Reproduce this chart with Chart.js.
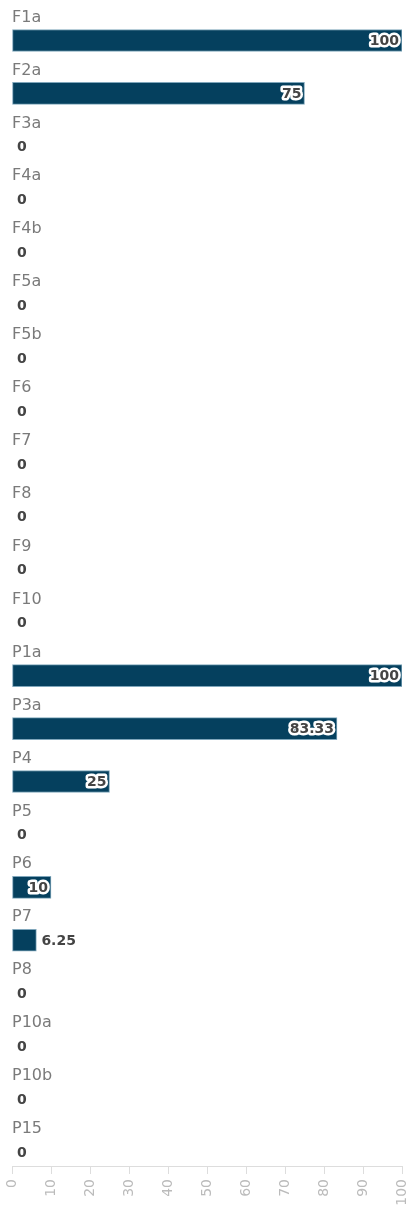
<!DOCTYPE html>
<html>
<head>
<meta charset="utf-8">
<script src="https://cdn.jsdelivr.net/npm/chart.js@4/dist/chart.umd.min.js"></script>
<style>
  html, body { margin: 0; padding: 0; background: #ffffff; }
  #wrap { position: relative; width: 412px; height: 1211px; }
</style>
</head>
<body>
<div id="wrap"><canvas id="c"></canvas></div>
<script>
const categories = ["F1a","F2a","F3a","F4a","F4b","F5a","F5b","F6","F7","F8","F9","F10",
                    "P1a","P3a","P4","P5","P6","P7","P8","P10a","P10b","P15"];
const values = [100, 75, 0, 0, 0, 0, 0, 0, 0, 0, 0, 0,
                100, 83.33, 25, 0, 10, 6.25, 0, 0, 0, 0];
const xTickMin = 0;
const xTickMax = 100;
const xTickStep = 10;

const FONT = "'DejaVu Sans', Verdana, sans-serif";

const labelPlugin = {
  id: 'rowLabels',
  afterDatasetsDraw(chart) {
    const ctx = chart.ctx;
    const ys = chart.scales.y;
    const xs = chart.scales.x;
    const meta = chart.getDatasetMeta(0);
    ctx.save();
    categories.forEach((cat, i) => {
      const cy = ys.getPixelForValue(i);
      ctx.font = "16px " + FONT;
      ctx.fillStyle = "#7a7a7a";
      ctx.textAlign = "left";
      ctx.textBaseline = "middle";
      ctx.fillText(cat, xs.left, cy - 23);
      const v = values[i];
      const txt = String(v);
      const bar = meta.data[i];
      const x0 = xs.getPixelForValue(0);
      const xe = bar ? bar.x : xs.getPixelForValue(v);
      ctx.font = "bold 14px " + FONT;
      const w = ctx.measureText(txt).width;
      ctx.lineJoin = "round";
      if (xe - x0 >= w + 8) {
        ctx.textAlign = "right";
        ctx.strokeStyle = "#ffffff";
        ctx.lineWidth = 5;
        ctx.strokeText(txt, xe - 3, cy + 1);
        ctx.fillStyle = "#444444";
        ctx.fillText(txt, xe - 3, cy + 1);
      } else {
        ctx.textAlign = "left";
        ctx.fillStyle = "#444444";
        ctx.fillText(txt, xe + 5, cy + 1);
      }
    });
    ctx.restore();
  }
};

new Chart(document.getElementById('c'), {
  type: 'bar',
  data: {
    datasets: [{
      data: values.map((v, i) => ({ x: v, y: i })),
      backgroundColor: '#05405e',
      borderColor: '#7fa6bb',
      borderWidth: 1,
      borderSkipped: false,
      barThickness: 22
    }]
  },
  options: {
    indexAxis: 'y',
    responsive: true,
    maintainAspectRatio: false,
    animation: false,
    layout: { padding: { left: 12, right: 10, top: 0, bottom: 0 } },
    plugins: { legend: { display: false }, tooltip: { enabled: false } },
    scales: {
      y: {
        type: 'linear',
        reverse: true,
        offset: false,
        min: -0.765,
        max: 21.265,
        display: false,
        grid: { offset: false }
      },
      x: {
        type: 'linear',
        position: 'bottom',
        min: xTickMin,
        max: xTickMax,
        afterFit(scale) {
          scale.height = 45;
          scale.paddingLeft = 0;
          scale.paddingRight = 0;
        },
        ticks: {
          stepSize: xTickStep,
          minRotation: 90,
          maxRotation: 90,
          padding: 5,
          color: '#bbbbbb',
          font: { family: FONT, size: 14 }
        },
        grid: {
          drawOnChartArea: false,
          drawTicks: true,
          tickLength: 8,
          color: '#dddddd'
        },
        border: { display: true, color: '#dddddd', width: 1 }
      }
    }
  },
  plugins: [labelPlugin]
});
</script>
</body>
</html>
